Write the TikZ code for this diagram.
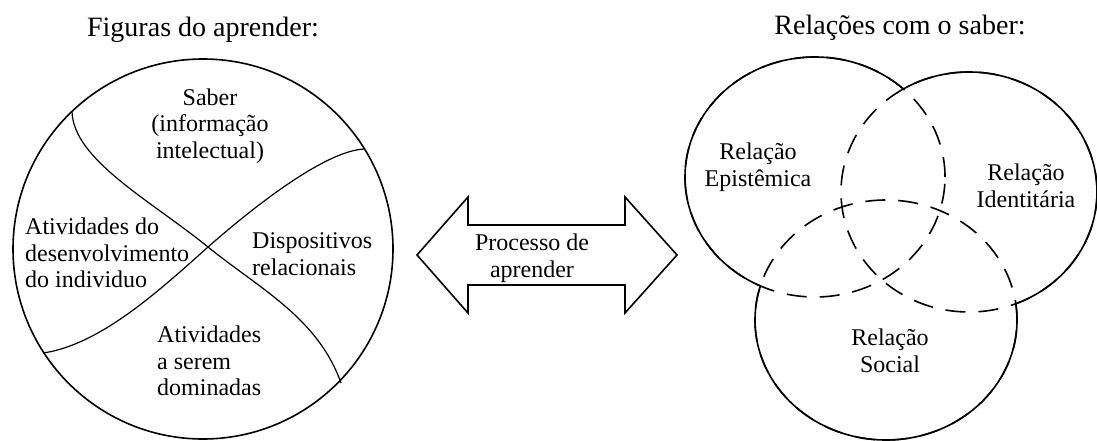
\documentclass[tikz,border=0pt]{standalone}
\usepackage{fontspec}
\setmainfont{Liberation Serif}
\begin{document}
\begin{tikzpicture}[x=1pt,y=-1pt,
  line/.style={line width=1.6pt},
  dsh/.style={line width=1.6pt, dash pattern=on 20pt off 13pt},
  lbl/.style={inner sep=0pt, font=\fontsize{24}{26.5}\selectfont},
  ttl/.style={inner sep=0pt, font=\fontsize{28}{30}\selectfont}]
\useasboundingbox (0,0) rectangle (1097,441);
% titles
\node[ttl] (t1) at (203,30) {Figuras do aprender:};
\node[ttl] (t2) at (900,28) {Relações com o saber:};
% left circle
\coordinate (c) at (203,249);
\draw[line] (c) circle[radius=190pt];
\coordinate (a1) at (72,112);
\coordinate (a2) at (341,383);
\coordinate (b1) at (43,353);
\coordinate (b2) at (365,149);
\coordinate (m) at (208,247);
\draw[line width=1.2pt] (a1) .. controls (74,160) and (150,200) .. (m) .. controls (260,289) and (318,318) .. (a2);
\draw[line width=1.2pt] (b1) .. controls (100,345) and (160,290) .. (m) .. controls (250,210) and (325,150) .. (b2);
\node[lbl, align=center] (saber) at (210,126) {Saber\\(informação\\intelectual)};
\node[lbl, align=left, anchor=west] (ativ1) at (25,253) {Atividades do\\desenvolvimento\\do individuo};
\node[lbl, align=left, anchor=west] (disp) at (252,254) {Dispositivos\\relacionais};
\node[lbl, align=left, anchor=west] (ativ2) at (157,361) {Atividades\\a serem\\dominadas};
% double arrow
\draw[line, line join=miter] (417,255) -- (468,197) -- (468,225) -- (625,225) -- (625,197) -- (677,255)
  -- (625,313) -- (625,285) -- (468,285) -- (468,313) -- cycle;
\node[lbl, align=center] (proc) at (532,258) {Processo de\\aprender};
% Venn ellipses
\coordinate (E) at (815,177);
\coordinate (I) at (969,192);
\coordinate (S) at (886,320);
\draw[dsh] (E) ellipse[x radius=130pt, y radius=120pt];
\draw[dsh] (I) ellipse[x radius=128pt, y radius=120pt];
\draw[dsh] (S) ellipse[x radius=131pt, y radius=120pt];
% solid parts outside the other ellipses
\begin{scope}[even odd rule]
  \clip (600,-10) rectangle (1110,460) (I) ellipse[x radius=128pt, y radius=120pt];
  \begin{scope}[even odd rule]
  \clip (600,-10) rectangle (1110,460) (S) ellipse[x radius=131pt, y radius=120pt];
  \draw[line] (E) ellipse[x radius=130pt, y radius=120pt];
  \end{scope}
\end{scope}
\begin{scope}[even odd rule]
  \clip (600,-10) rectangle (1110,460) (E) ellipse[x radius=130pt, y radius=120pt];
  \begin{scope}[even odd rule]
  \clip (600,-10) rectangle (1110,460) (S) ellipse[x radius=131pt, y radius=120pt];
  \draw[line] (I) ellipse[x radius=128pt, y radius=120pt];
  \end{scope}
\end{scope}
\begin{scope}[even odd rule]
  \clip (600,-10) rectangle (1110,460) (E) ellipse[x radius=130pt, y radius=120pt];
  \begin{scope}[even odd rule]
  \clip (600,-10) rectangle (1110,460) (I) ellipse[x radius=128pt, y radius=120pt];
  \draw[line] (S) ellipse[x radius=131pt, y radius=120pt];
  \end{scope}
\end{scope}
\node[lbl, align=center] (ep) at (758,167) {Relação\\Epistêmica};
\node[lbl, align=center] (id) at (1026,186) {Relação\\Identitária};
\node[lbl, align=center] (so) at (890,351) {Relação\\Social};
\end{tikzpicture}
\end{document}
